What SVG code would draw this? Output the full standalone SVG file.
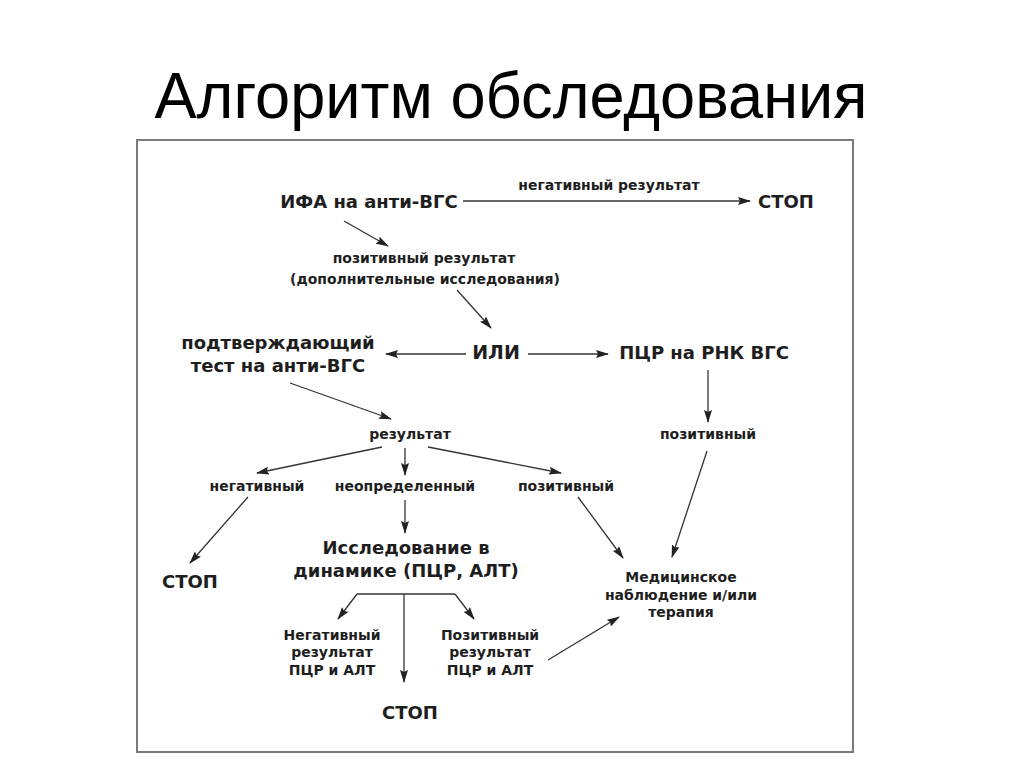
<svg xmlns="http://www.w3.org/2000/svg" width="1024" height="767" viewBox="0 0 1024 767">
<style>
.t{font-family:"DejaVu Sans",Verdana,sans-serif;font-weight:bold;fill:#1e1e1e;text-anchor:middle}
.b{font-size:18px}
.s{font-size:14px}
.c line,.c path{stroke:#333;stroke-width:1.3;fill:none;marker-end:url(#a)}
.c .n{marker-end:none}
</style>
<defs>
<marker id="a" viewBox="0 0 13 8" refX="12" refY="4" markerWidth="13" markerHeight="8" markerUnits="userSpaceOnUse" orient="auto">
<path d="M0,0 L13,4 L0,8 L2,4 Z" fill="#222" stroke="none"/>
</marker>
</defs>
<rect width="1024" height="767" fill="#fff"/>
<text x="511" y="118" font-family="Liberation Sans,Arial,sans-serif" font-size="64" textLength="713" lengthAdjust="spacingAndGlyphs" fill="#000" text-anchor="middle">Алгоритм обследования</text>
<rect x="137" y="140" width="716" height="612" fill="#fff" stroke="#7a7a7a" stroke-width="2"/>
<g id="ifa"><text class="t b" x="369" y="208">ИФА на анти-ВГС</text></g>
<g id="stop1"><text class="t b" x="786" y="208">СТОП</text></g>
<g id="negres"><text class="t s" x="609" y="190">негативный результат</text></g>
<g id="posres"><text class="t s" x="424" y="263">позитивный результат</text><text class="t s" x="425" y="284">(дополнительные исследования)</text></g>
<g id="ili"><text class="t b" x="496" y="359" style="font-size:19px">ИЛИ</text></g>
<g id="confirm"><text class="t b" x="278" y="349">подтверждающий</text><text class="t b" x="278" y="372">тест на анти-ВГС</text></g>
<g id="pcr"><text class="t b" x="704" y="359">ПЦР на РНК ВГС</text></g>
<g id="result"><text class="t s" x="410" y="439">результат</text></g>
<g id="pos2"><text class="t s" x="708" y="439">позитивный</text></g>
<g id="neg"><text class="t s" x="257" y="491">негативный</text></g>
<g id="undef"><text class="t s" x="405" y="491">неопределенный</text></g>
<g id="pos"><text class="t s" x="566" y="491">позитивный</text></g>
<g id="stop2"><text class="t b" x="190" y="588">СТОП</text></g>
<g id="dyn"><text class="t b" x="406" y="554">Исследование в</text><text class="t b" x="406" y="577">динамике (ПЦР, АЛТ)</text></g>
<g id="med"><text class="t s" x="681" y="582">Медицинское</text><text class="t s" x="681" y="600">наблюдение и/или</text><text class="t s" x="681" y="617">терапия</text></g>
<g id="negpcr"><text class="t s" x="332" y="640">Негативный</text><text class="t s" x="332" y="657">результат</text><text class="t s" x="332" y="675">ПЦР и АЛТ</text></g>
<g id="pospcr"><text class="t s" x="490" y="640">Позитивный</text><text class="t s" x="490" y="657">результат</text><text class="t s" x="490" y="675">ПЦР и АЛТ</text></g>
<g id="stop3"><text class="t b" x="410" y="719">СТОП</text></g>
<g id="connectors" class="c">
<line x1="463" y1="201" x2="750" y2="201"/>
<line x1="344" y1="221" x2="388" y2="246"/>
<line x1="457" y1="290" x2="491" y2="328"/>
<line x1="466" y1="354" x2="386" y2="354"/>
<line x1="528" y1="354" x2="608" y2="354"/>
<line x1="708" y1="370" x2="708" y2="422"/>
<line x1="290" y1="383" x2="391" y2="419"/>
<line x1="382" y1="447" x2="257" y2="473"/>
<line x1="405" y1="448" x2="405" y2="475"/>
<line x1="428" y1="447" x2="561" y2="473"/>
<line x1="248" y1="497" x2="190" y2="563"/>
<line x1="405" y1="500" x2="405" y2="533"/>
<line x1="578" y1="497" x2="623" y2="558"/>
<line x1="707" y1="451" x2="672" y2="557"/>
<line class="n" x1="357" y1="594" x2="455" y2="594"/>
<line x1="357" y1="594" x2="338" y2="619"/>
<line x1="455" y1="594" x2="474" y2="619"/>
<line x1="404" y1="594" x2="404" y2="682"/>
<line x1="548" y1="660" x2="619" y2="617"/>
</g>
</svg>
